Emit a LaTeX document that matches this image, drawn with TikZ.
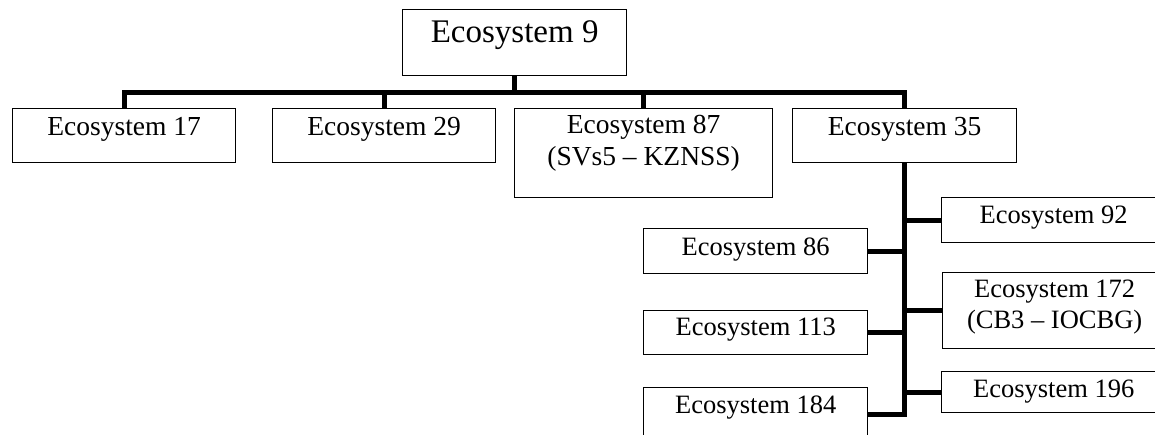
\documentclass[tikz,border=0pt]{standalone}
\usepackage{fontspec}
\setmainfont{Liberation Serif}
\usepackage{tikz}
\usetikzlibrary{calc}

\begin{document}
\begin{tikzpicture}[
  x=1pt, y=-1pt,
  eco/.style={rectangle, draw=black, line width=1.3pt, inner sep=0pt,
              align=center, anchor=north west, minimum width=223pt,
              text height=27pt, text depth=27pt,
              font=\fontsize{27.5}{32}\selectfont},
  rootbox/.style={eco, minimum width=224pt, text height=33pt, text depth=33pt,
              font=\fontsize{33}{38}\selectfont},
  subbox/.style={eco, minimum width=224pt, font=\fontsize{26.5}{31}\selectfont},
  link/.style={line width=5pt}
]
\useasboundingbox (0,0) rectangle (1155,434);
\clip (0,0) rectangle (1155,434);

\node[rootbox] (root) at (402,9) {Ecosystem 9};
\node[eco] (e17) at (12,108) {Ecosystem 17};
\node[eco] (e29) at (272,108) {Ecosystem 29};
\node[eco, minimum width=258pt, text height=57pt, text depth=32pt] (e87) at (514,108) {Ecosystem 87\\(SVs5 -- KZNSS)};
\node[eco, minimum width=224pt] (e35) at (792,108) {Ecosystem 35};

\node[subbox, text height=26pt, text depth=19pt] (e92) at (941,197) {Ecosystem 92};
\node[subbox, text height=56pt, text depth=20pt] (e172) at (942,272) {Ecosystem 172\\(CB3 -- IOCBG)};
\node[subbox, text height=26pt, text depth=15pt] (e196) at (941,371) {Ecosystem 196};
\node[subbox, text height=27pt, text depth=18pt] (e86) at (643,228) {Ecosystem 86};
\node[subbox, text height=25pt, text depth=19pt] (e113) at (643,310) {Ecosystem 113};
\node[subbox, text height=26pt, text depth=27pt] (e184) at (643,387) {Ecosystem 184};

\coordinate (bar) at ($(root.south)+(0,16)$);
\draw[link] (root.south) -- (bar);
\draw[link] (e17.north) |- (bar) -| (e35.north);
\draw[link] (e29.north) -- (e29.north |- bar);
\draw[link] (e87.north) -- (e87.north |- bar);

\draw[link] (e184.east) -| (e35.south);
\draw[link] (e86.east) -- (e86.east -| e35.south);
\draw[link] (e113.east) -- (e113.east -| e35.south);
\draw[link] (e92.west) -- (e92.west -| e35.south);
\draw[link] (e172.west) -- (e172.west -| e35.south);
\draw[link] (e196.west) -- (e196.west -| e35.south);
\end{tikzpicture}
\end{document}
